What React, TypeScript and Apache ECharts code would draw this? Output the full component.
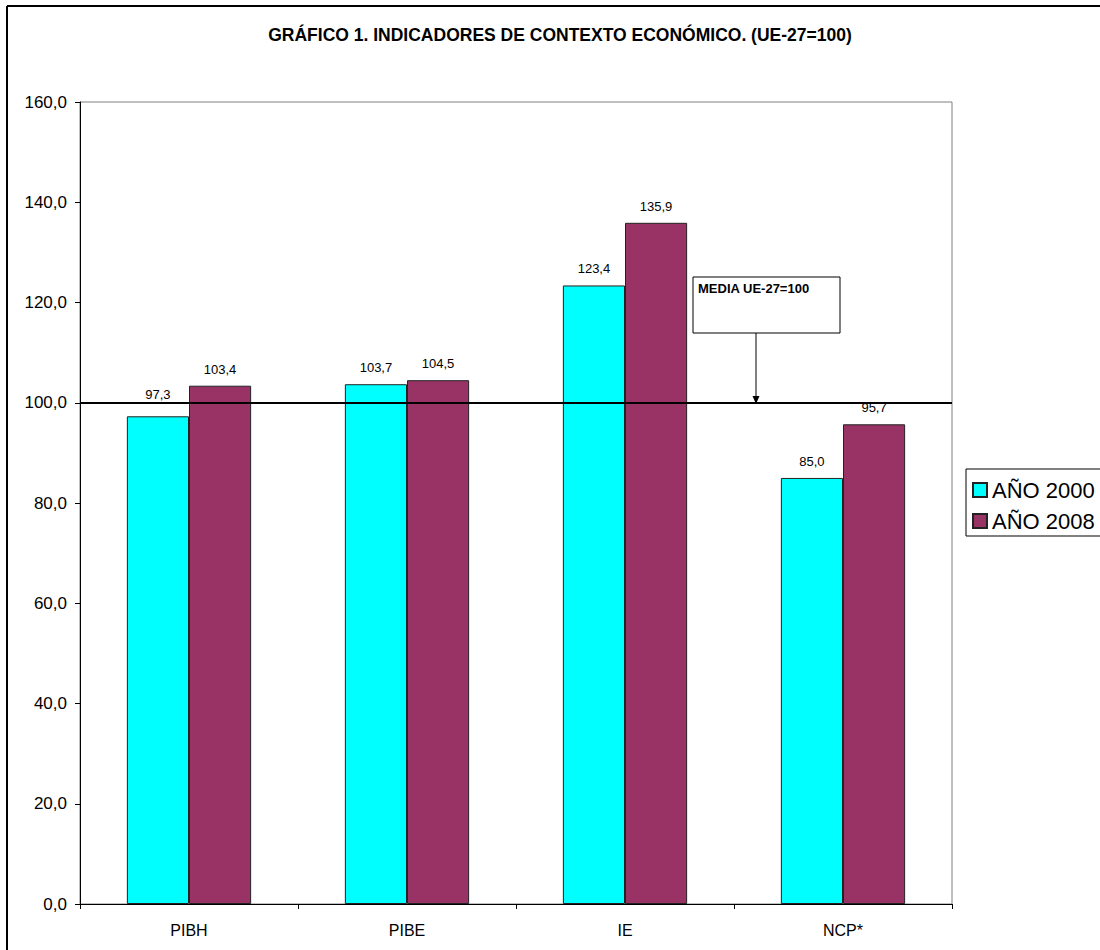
import React, { useEffect, useRef } from "react";
import * as echarts from "echarts";

const categories = ["PIBH", "PIBE", "IE", "NCP*"];
const year2000 = [97.3, 103.7, 123.4, 85.0];
const year2008 = [103.4, 104.5, 135.9, 95.7];
const seriesNames = ["AÑO 2000", "AÑO 2008"];
const referenceValue = 100;
const titleText = "GRÁFICO 1. INDICADORES DE CONTEXTO ECONÓMICO. (UE-27=100)";
const noteText = "MEDIA UE-27=100";

const fmt = (v: number) => v.toFixed(1).replace(".", ",");
const FONT = "'Liberation Sans', Arial, sans-serif";

const barLabel = {
  show: true,
  position: "top",
  distance: 10,
  fontFamily: FONT,
  fontSize: 13,
  color: "#000",
  formatter: (p: any) => fmt(p.value),
};

export default function App() {
  const ref = useRef<HTMLDivElement>(null);
  useEffect(() => {
    document.body.style.margin = "0";
    const chart = echarts.init(ref.current!, undefined, { renderer: "svg" });
    chart.setOption({
      animation: false,
      backgroundColor: "#ffffff",
      textStyle: { fontFamily: FONT },
      title: {
        text: titleText,
        left: 555,
        textAlign: "center",
        top: 21,
        textStyle: { fontFamily: FONT, fontSize: 17.5, fontWeight: "bold", color: "#000" },
      },
      grid: {
        left: 80,
        right: 148,
        top: 102,
        bottom: 46,
        show: true,
        borderColor: "#808080",
        borderWidth: 1,
        backgroundColor: "transparent",
      },
      legend: {
        orient: "vertical",
        left: 966,
        top: 469,
        data: seriesNames,
        icon: "rect",
        itemWidth: 14,
        itemHeight: 14,
        itemGap: 9,
        padding: [10, 40, 4, 6],
        borderColor: "#000",
        borderWidth: 1,
        backgroundColor: "#fff",
        textStyle: { fontFamily: FONT, fontSize: 22, color: "#000" },
      },
      xAxis: {
        type: "category",
        data: categories,
        axisLine: { lineStyle: { color: "#000", width: 1 } },
        axisTick: { show: true, length: 5, lineStyle: { color: "#000" } },
        axisLabel: { fontFamily: FONT, fontSize: 16, color: "#000", margin: 18 },
      },
      yAxis: {
        type: "value",
        min: 0,
        max: 160,
        interval: 20,
        axisLine: { show: true, lineStyle: { color: "#000", width: 1 } },
        axisTick: { show: true, length: 5, lineStyle: { color: "#000" } },
        splitLine: { show: false },
        axisLabel: {
          fontFamily: FONT,
          fontSize: 17,
          color: "#000",
          margin: 13,
          formatter: (v: number) => fmt(v),
        },
      },
      series: [
        {
          name: seriesNames[0],
          type: "bar",
          data: year2000.map((v, i) => (i === 0 ? { value: v, label: { distance: 15 } } : v)),
          barWidth: "28.5%",
          barGap: "0%",
          itemStyle: { color: "#00FFFF", borderColor: "#222", borderWidth: 1 },
          label: barLabel,
          markLine: {
            silent: true,
            symbol: "none",
            label: { show: false },
            lineStyle: { color: "#000", width: 2, type: "solid" },
            data: [{ yAxis: referenceValue }],
            z: 10,
          },
        },
        {
          name: seriesNames[1],
          type: "bar",
          data: year2008,
          barWidth: "28.5%",
          barGap: "0%",
          itemStyle: { color: "#993366", borderColor: "#222", borderWidth: 1 },
          label: barLabel,
        },
      ],
      graphic: [
        {
          type: "line",
          shape: { x1: 7, y1: 6, x2: 1100, y2: 6 },
          style: { stroke: "#000", lineWidth: 2 },
          z: 100,
          silent: true,
        },
        {
          type: "line",
          shape: { x1: 7, y1: 6, x2: 7, y2: 950 },
          style: { stroke: "#000", lineWidth: 2 },
          z: 100,
          silent: true,
        },
        {
          type: "rect",
          shape: { x: 693, y: 277, width: 147, height: 56 },
          style: { fill: "#fff", stroke: "#000", lineWidth: 1 },
          z: 50,
        },
        {
          type: "text",
          x: 698,
          y: 282,
          style: { text: noteText, fontFamily: FONT, fontSize: 13, fontWeight: "bold", fill: "#000" },
          z: 51,
        },
        {
          type: "line",
          shape: { x1: 756, y1: 333, x2: 756, y2: 397 },
          style: { stroke: "#000", lineWidth: 1 },
          z: 50,
        },
        {
          type: "polygon",
          shape: { points: [[752.5, 396], [759.5, 396], [756, 404]] },
          style: { fill: "#000" },
          z: 50,
        },
      ],
    });
    return () => chart.dispose();
  }, []);
  return <div ref={ref} style={{ width: 1100, height: 950 }} />;
}
